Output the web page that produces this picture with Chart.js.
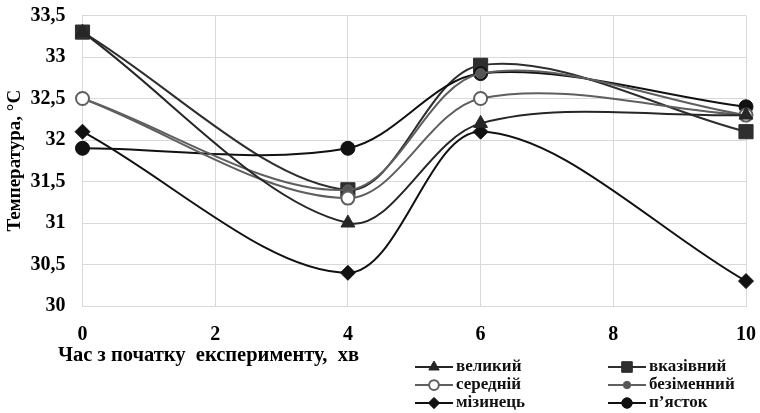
<!DOCTYPE html>
<html lang="uk">

<head>
  <meta charset="UTF-8" />
  <title>Температура</title>
  <script src="https://cdn.jsdelivr.net/npm/chart.js@4"></script>
  <style>
    html, body { margin: 0; padding: 0; background: #fff; }
    #wrap { width: 760px; height: 413px; position: relative; }
  </style>
</head>

<body>
  <div id="wrap">
    <canvas id="myChart" width="760" height="413"></canvas>
  </div>

  <script>
    // data
    const minutes = [0, 4, 6, 10];
    const xTicks = [0, 2, 4, 6, 8, 10];
    const yTicks = [30, 30.5, 31, 31.5, 32, 32.5, 33, 33.5];

    const velykyi = [33.3, 31.0, 32.2, 32.3];
    const vkazivnyi = [33.3, 31.4, 32.9, 32.1];
    const serednii = [32.5, 31.3, 32.5, 32.3];
    const bezimennyi = [32.5, 31.4, 32.8, 32.3];
    const mizynets = [32.1, 30.4, 32.1, 30.3];
    const piastok = [31.9, 31.9, 32.8, 32.4];

    const names = ["великий", "вказівний", "середній", "безіменний", "мізинець", "п’ясток"];

    const serif = "'Liberation Serif', 'Times New Roman', serif";

    function pts(values) {
      return values.map((v, i) => ({ x: minutes[i], y: v }));
    }

    function series(label, values, color, style, radius, fill, bw) {
      return {
        label: label,
        data: pts(values),
        borderColor: color,
        borderWidth: 2,
        pointStyle: style,
        pointRadius: radius,
        pointBackgroundColor: fill,
        pointBorderColor: color,
        pointBorderWidth: bw,
        tension: 0.33,
        fill: false,
        clip: false,
      };
    }

    const datasets = [
      series(names[0], velykyi, "#262626", "triangle", 8, "#262626", 1),
      series(names[2], serednii, "#5f5f5f", "circle", 6.5, "#ffffff", 2),
      series(names[3], bezimennyi, "#5f5f5f", "circle", 5, "#555555", 1),
      series(names[5], piastok, "#111111", "circle", 7, "#111111", 1),
      series(names[1], vkazivnyi, "#2e2e2e", "rect", 10, "#2e2e2e", 1),
      series(names[4], mizynets, "#111111", "rectRot", 7.5, "#111111", 1),
    ];

    // legend drawn by hand: line + marker + text, two columns
    const legendItems = [
      { ds: 0, x: 415, y: 367 }, { ds: 4, x: 608, y: 367 },
      { ds: 1, x: 415, y: 385 }, { ds: 2, x: 608, y: 385 },
      { ds: 5, x: 415, y: 403 }, { ds: 3, x: 608, y: 403 },
    ];

    const extraText = {
      id: "extraText",
      afterDraw(chart) {
        const ctx = chart.ctx;
        ctx.save();
        // x axis title, left aligned below the plot
        ctx.fillStyle = "#000";
        ctx.font = "bold 20.5px " + serif;
        ctx.textBaseline = "middle";
        ctx.textAlign = "left";
        ctx.fillText("Час з початку  експерименту,  хв", 58, 356);

        legendItems.forEach((it) => {
          const ds = chart.data.datasets[it.ds];
          ctx.strokeStyle = ds.borderColor;
          ctx.lineWidth = 2;
          ctx.beginPath();
          ctx.moveTo(it.x, it.y);
          ctx.lineTo(it.x + 38, it.y);
          ctx.stroke();
          ctx.fillStyle = ds.pointBackgroundColor;
          ctx.strokeStyle = ds.pointBorderColor;
          ctx.lineWidth = ds.pointBorderWidth;
          Chart.helpers.drawPoint(ctx, {
            pointStyle: ds.pointStyle,
            radius: ds.pointRadius * 0.75,
            borderWidth: ds.pointBorderWidth,
            rotation: 0,
          }, it.x + 19, it.y);
          ctx.fillStyle = "#111";
          ctx.font = "bold 17px " + serif;
          ctx.fillText(ds.label, it.x + 41, it.y);
        });
        ctx.restore();
      },
    };

    const ctx = document.getElementById("myChart").getContext("2d");
    const myChart = new Chart(ctx, {
      type: "line",
      data: { datasets: datasets },
      plugins: [extraText],
      options: {
        responsive: false,
        animation: false,
        layout: { autoPadding: false, padding: { top: 15.5, right: 14, bottom: 67, left: 0 } },
        plugins: {
          legend: { display: false },
          tooltip: { enabled: false },
        },
        scales: {
          x: {
            type: "linear",
            min: 0,
            max: 10,
            afterBuildTicks: (s) => { s.ticks = xTicks.map((v) => ({ value: v })); },
            afterFit: (s) => { s.height = 40; },
            grid: { color: "#d9d9d9", lineWidth: 1, drawTicks: true, tickLength: 14, tickColor: "rgba(0,0,0,0)" },
            border: { color: "#d9d9d9" },
            ticks: {
              padding: 3,
              color: "#000",
              font: { family: serif, size: 20, weight: "bold" },
            },
          },
          y: {
            min: 30,
            max: 33.5,
            afterBuildTicks: (s) => { s.ticks = yTicks.map((v) => ({ value: v })); },
            afterFit: (s) => { s.width = 82.5; },
            grid: { color: "#d9d9d9", lineWidth: 1, drawTicks: true, tickLength: 15, tickColor: "rgba(0,0,0,0)" },
            border: { color: "#d9d9d9" },
            ticks: {
              padding: 2,
              color: "#000",
              font: { family: serif, size: 20, weight: "bold" },
              callback: (v) => String(v).replace(".", ","),
            },
            title: {
              display: true,
              text: "Температура, °С",
              color: "#000",
              font: { family: serif, size: 19, weight: "bold" },
              padding: { top: 4, bottom: 0 },
            },
          },
        },
      },
    });
  </script>
</body>

</html>
